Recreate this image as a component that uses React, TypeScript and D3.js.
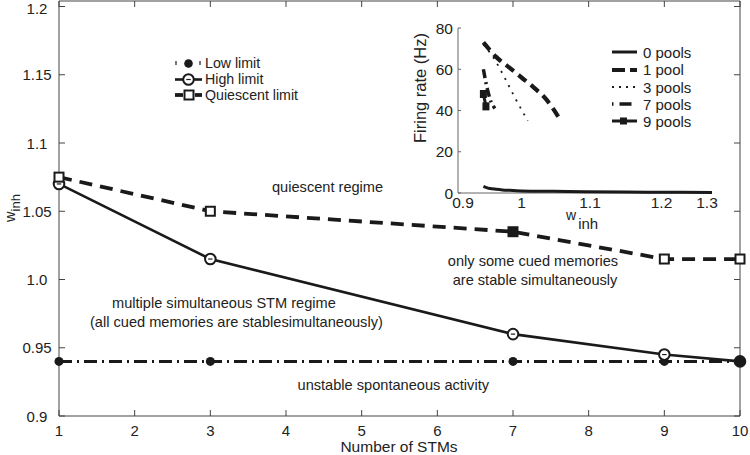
import React from "react";
import * as d3 from "d3";

const stms = [1, 3, 7, 9, 10];
const lowLimit = [0.94, 0.94, 0.94, 0.94, 0.94];
const highLimit = [1.07, 1.015, 0.96, 0.945, 0.94];
const quiescentLimit = [1.075, 1.05, 1.035, 1.015, 1.015];
const xTicks = [1, 2, 3, 4, 5, 6, 7, 8, 9, 10];
const yTicks = [0.9, 0.95, 1.0, 1.05, 1.1, 1.15, 1.2];
const yTickLabels = ["0.9", "0.95", "1.0", "1.05", "1.1", "1.15", "1.2"];

const insetXTicks = [0.9, 1, 1.1, 1.2, 1.3];
const insetYTicks = [0, 20, 40, 60, 80];
const pools0W = [0.94, 0.945, 0.95, 0.96, 0.97, 0.98, 1.0, 1.05, 1.1, 1.2, 1.3];
const pools0R = [3.2, 2.6, 2.2, 1.8, 1.5, 1.3, 1.0, 0.8, 0.6, 0.4, 0.3];
const pools1W = [0.94, 0.96, 0.98, 1.0, 1.02, 1.04, 1.06];
const pools1R = [73, 66, 61, 56, 51, 45, 36];
const pools3W = [0.94, 0.955, 0.975, 0.99, 1.01];
const pools3R = [72, 66, 55, 46, 35];
const pools7W = [0.94, 0.945, 0.95, 0.958];
const pools7R = [60, 52, 46, 41];
const pools9W = [0.94, 0.944];
const pools9R = [48, 42];

const FONT = "'Liberation Sans', Arial, Helvetica, sans-serif";
const INK = "#1a1a1a";

export default function App() {
  const x = d3.scaleLinear().domain([1, 10]).range([59, 740]);
  const y = d3.scaleLinear().domain([0.9, 1.2]).range([416, 6.5]);
  const top = 1;

  const ix = d3.scaleLinear().domain([0.9, 1.3]).range([458, 712]);
  const iy = d3.scaleLinear().domain([0, 80]).range([193, 28]);
  const ixNudge: Record<string, number> = { "0.9": 5, "1": 0, "1.1": 5, "1.2": 13, "1.3": -5 };

  const line = d3
    .line<number>()
    .x((_, i) => x(stms[i]))
    .y((d) => y(d));

  const iline = (ws: number[]) =>
    d3
      .line<number>()
      .x((_, i) => ix(ws[i]))
      .y((d) => iy(d))
      .curve(d3.curveMonotoneX);

  const lowStyle = { stroke: INK, strokeWidth: 3, fill: "none", strokeDasharray: "13,5,2,5" };
  const highStyle = { stroke: INK, strokeWidth: 2.6, fill: "none" };
  const quiStyle = { stroke: INK, strokeWidth: 3.8, fill: "none", strokeDasharray: "13,8" };

  const highMarker = (cx: number, cy: number, filled: boolean, key: any) => (
    <g key={key}>
      <circle cx={cx} cy={cy} r={5.3} fill={filled ? INK : "#fff"} stroke={INK} strokeWidth={2} />
      {!filled && <line x1={cx - 2.2} x2={cx + 2.2} y1={cy} y2={cy} stroke={INK} strokeWidth={1.2} />}
    </g>
  );
  const quiMarker = (cx: number, cy: number, filled: boolean, key: any) => (
    <rect key={key} x={cx - 4.5} y={cy - 4.5} width={9} height={9} fill={filled ? INK : "#fff"} stroke={INK} strokeWidth={2} />
  );

  return (
    <svg width={750} height={455} style={{ position: "absolute", left: 0, top: 0, background: "#fff" }} fontFamily={FONT}>
      <rect x={0} y={0} width={750} height={455} fill="#fff" />
      {/* frame */}
      <g stroke="#444" strokeWidth={1} fill="none">
        <line x1={59} x2={59} y1={top} y2={416} />
        <line x1={59} x2={740} y1={416} y2={416} />
        <line x1={740} x2={740} y1={top} y2={416} />
        <line x1={59} x2={740} y1={top} y2={top} />
        {xTicks.map((t) => (
          <g key={"xt" + t}>
            <line x1={x(t)} x2={x(t)} y1={416} y2={410} />
            <line x1={x(t)} x2={x(t)} y1={top} y2={top + 6} />
          </g>
        ))}
        {yTicks.map((t) => (
          <g key={"yt" + t}>
            <line x1={59} x2={65} y1={y(t)} y2={y(t)} />
            <line x1={740} x2={734} y1={y(t)} y2={y(t)} />
          </g>
        ))}
      </g>
      {xTicks.map((t) => (
        <text key={"xl" + t} x={x(t)} y={436} fontSize={15} textAnchor="middle" fill="#222">
          {t}
        </text>
      ))}
      {yTicks.map((t, i) => (
        <text key={"yl" + t} x={37} y={Math.max(y(t) + 5.5, 14)} fontSize={15} textAnchor="middle" fill="#222">
          {yTickLabels[i]}
        </text>
      ))}
      <text x={399} y={452} fontSize={15.5} textAnchor="middle" fill="#222">
        Number of STMs
      </text>
      <g transform="translate(14.5,208) rotate(-90)">
        <text x={0} y={0} fontSize={14.5} textAnchor="middle" fill="#222">
          w
          <tspan fontSize={13} dy={5}>inh</tspan>
        </text>
      </g>

      {/* series */}
      <path d={line(lowLimit) || ""} style={lowStyle as any} />
      <path d={line(quiescentLimit) || ""} style={quiStyle as any} />
      <path d={line(highLimit) || ""} style={highStyle as any} />
      {lowLimit.map((v, i) => (
        <circle key={"lm" + i} cx={x(stms[i])} cy={y(v)} r={4.5} fill={INK} />
      ))}
      {highLimit.map((v, i) => highMarker(x(stms[i]), y(v), i === 4, "hm" + i))}
      {quiescentLimit.map((v, i) => quiMarker(x(stms[i]), y(v), i === 2, "qm" + i))}

      {/* legend */}
      <g>
        <line x1={176} x2={176} y1={61} y2={65} stroke={INK} strokeWidth={1.2} />
        <line x1={200} x2={200} y1={61} y2={65} stroke={INK} strokeWidth={1.2} />
        <circle cx={188.5} cy={63.5} r={4.3} fill={INK} />
        <text x={205} y={67.5} fontSize={14.2} fill="#222">Low limit</text>
        <line x1={175} x2={202} y1={79.5} y2={79.5} stroke={INK} strokeWidth={2.6} />
        {highMarker(188.5, 79.5, false, "lh")}
        <text x={205} y={84} fontSize={14.2} fill="#222">High limit</text>
        <line x1={175} x2={183} y1={95} y2={95} stroke={INK} strokeWidth={3.8} />
        <line x1={195} x2={202} y1={95} y2={95} stroke={INK} strokeWidth={3.8} />
        {quiMarker(189, 95, false, "lq")}
        <text x={205} y={100} fontSize={14.2} fill="#222">Quiescent limit</text>
      </g>

      {/* annotations */}
      <g fontSize={14.6} fill="#222">
        <text x={272} y={192}>quiescent regime</text>
        <text x={533} y={266} textAnchor="middle">only some cued memories</text>
        <text x={535} y={285} textAnchor="middle">are stable simultaneously</text>
        <text x={112} y={308}>multiple simultaneous STM regime</text>
        <text x={90} y={327}>(all cued memories are stablesimultaneously)</text>
        <text x={489} y={390} textAnchor="end">unstable spontaneous activity</text>
      </g>

      {/* inset */}
      <g>
        <g stroke="#666" strokeWidth={1} fill="none">
          <line x1={458} x2={458} y1={iy(80)} y2={iy(0)} />
          <line x1={458} x2={712} y1={iy(0)} y2={iy(0)} />
          {insetYTicks.map((t) => (
            <line key={"iyt" + t} x1={458} x2={461} y1={iy(t)} y2={iy(t)} />
          ))}
        </g>
        {insetYTicks.map((t) => (
          <text key={"iyl" + t} x={453} y={iy(t) + 5.5} fontSize={15.5} textAnchor="end" fill="#222">
            {t}
          </text>
        ))}
        {insetXTicks.map((t) => (
          <text key={"ixl" + t} x={ix(t) + ixNudge[String(t)]} y={208} fontSize={15.5} textAnchor="middle" fill="#222">
            {t}
          </text>
        ))}
        <g transform="translate(426,88) rotate(-90)">
          <text x={0} y={0} fontSize={16.5} textAnchor="middle" fill="#222">
            Firing rate (Hz)
          </text>
        </g>
        <text x={566} y={220} fontSize={14} fill="#222">
          w
          <tspan dx={2} dy={9} fontSize={15}>inh</tspan>
        </text>

        <path d={iline(pools0W)(pools0R) || ""} stroke={INK} strokeWidth={3} fill="none" />
        <path d={iline(pools1W)(pools1R) || ""} stroke={INK} strokeWidth={4.2} fill="none" strokeDasharray="10,6" />
        <path d={iline(pools3W)(pools3R) || ""} stroke={INK} strokeWidth={1.8} fill="none" strokeDasharray="2,6" />
        <path d={iline(pools7W)(pools7R) || ""} stroke={INK} strokeWidth={3.5} fill="none" strokeDasharray="9,4,2,4" />
        <path d={iline(pools9W)(pools9R) || ""} stroke={INK} strokeWidth={3} fill="none" />
        {pools9W.map((w, i) => (
          <rect key={"p9" + i} x={ix(w) - 3.5} y={iy(pools9R[i]) - 4} width={7} height={8} fill={INK} />
        ))}

        {/* inset legend */}
        <g stroke={INK} fill="none">
          <line x1={612} x2={637} y1={52} y2={52} strokeWidth={3} />
          <line x1={612} x2={637} y1={70} y2={70} strokeWidth={4} strokeDasharray="13,5" />
          <line x1={612} x2={637} y1={87} y2={87} strokeWidth={1.8} strokeDasharray="2,5" />
          <line x1={612} x2={637} y1={104} y2={104} strokeWidth={3.5} strokeDasharray="1.5,6,12,6,2" />
          <line x1={612} x2={637} y1={121} y2={121} strokeWidth={3} />
        </g>
        <rect x={620} y={117.5} width={7} height={7} fill={INK} />
        <g fontSize={15} fill="#222">
          <text x={643} y={57.5}>0 pools</text>
          <text x={643} y={75}>1 pool</text>
          <text x={643} y={92.5}>3 pools</text>
          <text x={643} y={109.5}>7 pools</text>
          <text x={643} y={126.5}>9 pools</text>
        </g>
      </g>
    </svg>
  );
}
